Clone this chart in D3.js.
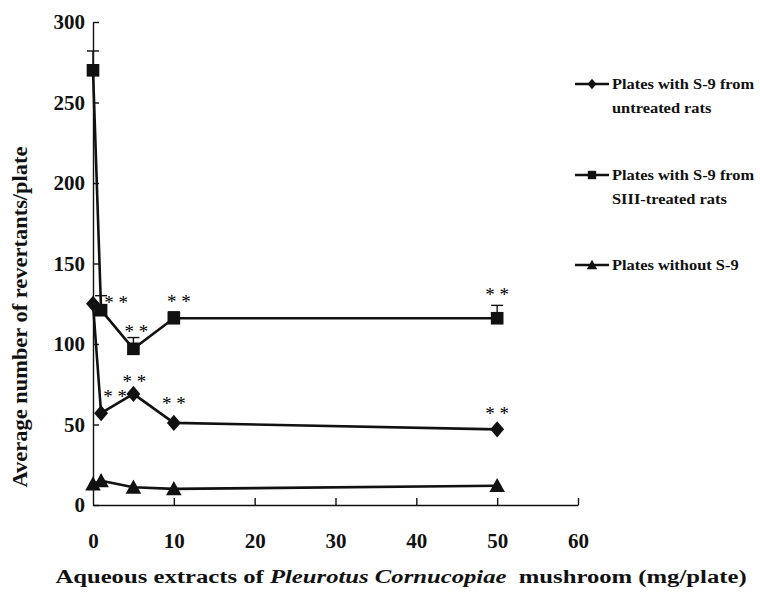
<!DOCTYPE html>
<html><head><meta charset="utf-8">
<script src="https://cdn.jsdelivr.net/npm/d3@7"></script>
<style>
body{margin:0;background:#fff}
text{font-family:"Liberation Serif","Times New Roman",serif}
</style>
</head><body><svg id="c" width="760" height="594"></svg>
<script>
// ---- data ----
const doses = [0, 1, 5, 10, 50];
const untreated = [125, 57, 69, 51, 47];
const siiiTreated = [270, 121, 97, 116, 116];
const siiiErrUp = [12, 9, 7, 4, 8];
const withoutS9 = [13, 15, 11, 10, 12];
const xTicks = [0, 10, 20, 30, 40, 50, 60];
const yTicks = [0, 50, 100, 150, 200, 250, 300];
const legendUntreated = ["Plates with S-9 from", "untreated rats"];
const legendSiii = ["Plates with S-9 from", "SIII-treated rats"];
const legendWithout = ["Plates without S-9"];
const yTitle = "Average number of revertants/plate";
const xTitleParts = ["Aqueous extracts of ", "Pleurotus Cornucopiae", "  mushroom (mg/plate)"];
// significance marks: which series and which dose index
const starsSiii = [1, 2, 3, 4];
const starsUntreated = [1, 2, 3, 4];
const starLabel = "* *";

// ---- layout ----
const svg = d3.select("#c");
const x = d3.scaleLinear().domain([0, 60]).range([93, 578]);
const y = d3.scaleLinear().domain([0, 300]).range([505, 22]);
const ink = "#111";

const diamond = {
  draw(ctx, size) {
    const h = Math.sqrt(size) * 0.62, w = h * 0.86;
    ctx.moveTo(0, -h); ctx.lineTo(w, 0); ctx.lineTo(0, h); ctx.lineTo(-w, 0); ctx.closePath();
  }
};
const triangle = {
  draw(ctx, size) {
    const s = Math.sqrt(size);
    ctx.moveTo(0, -s * 0.55); ctx.lineTo(s * 0.55, s * 0.45); ctx.lineTo(-s * 0.55, s * 0.45); ctx.closePath();
  }
};

// axes
const yAxis = d3.axisLeft(y).tickValues(yTicks).tickSizeInner(-6).tickSizeOuter(0).tickPadding(8);
const gy = svg.append("g").attr("transform", `translate(${x(0)},0)`).call(yAxis);
gy.selectAll("path,line").attr("stroke", ink).attr("stroke-width", 1.4);
gy.selectAll("text").attr("font-size", 21).attr("font-weight", "bold").attr("fill", ink);

const xAxis = d3.axisBottom(x).tickValues(xTicks).tickSizeInner(-7).tickSizeOuter(0).tickPadding(28);
const gx = svg.append("g").attr("transform", `translate(0,${y(0)})`).call(xAxis);
gx.selectAll("path,line").attr("stroke", ink).attr("stroke-width", 1.4);
gx.selectAll("text").attr("font-size", 21).attr("font-weight", "bold").attr("fill", ink);
gx.selectAll(".tick").filter(d => d === 0).select("line").remove();

// lines
const line = d3.line().x((d, i) => x(doses[i])).y(d => y(d));
[siiiTreated, untreated, withoutS9].forEach(s => {
  svg.append("path").datum(s).attr("d", line).attr("fill", "none")
    .attr("stroke", ink).attr("stroke-width", 2.6).attr("stroke-linejoin", "round");
});

// error bars (upper only)
const eb = svg.append("g").attr("stroke", ink).attr("stroke-width", 1.4);
siiiTreated.forEach((v, i) => {
  const cx = x(doses[i]);
  eb.append("line").attr("x1", cx).attr("x2", cx).attr("y1", y(v)).attr("y2", y(v + siiiErrUp[i]));
  eb.append("line").attr("x1", cx - 6).attr("x2", cx + 6).attr("y1", y(v + siiiErrUp[i])).attr("y2", y(v + siiiErrUp[i]));
});

// markers
function markers(data, type, size) {
  svg.append("g").selectAll("path").data(data).join("path")
    .attr("transform", (d, i) => `translate(${x(doses[i])},${y(d)})`)
    .attr("d", d3.symbol().type(type).size(size)).attr("fill", ink);
}
markers(siiiTreated, d3.symbolSquare, 160);
markers(untreated, diamond, 170);
markers(withoutS9, triangle, 200);

// stars
const starOffSiii = [[0, 0], [15, -1], [3, -11], [5, -10], [0, -17]];
const starOffUnt = [[0, 0], [14, -10], [1, -6], [0, -13], [0, -9]];
function stars(data, idx, offs) {
  svg.append("g").selectAll("text").data(idx).join("text")
    .attr("x", i => x(doses[i]) + offs[i][0])
    .attr("y", i => y(data[i]) + offs[i][1])
    .attr("text-anchor", "middle").attr("font-size", 19).attr("fill", "#000")
    .attr("xml:space", "preserve")
    .text(starLabel);
}
stars(siiiTreated, starsSiii, starOffSiii);
stars(untreated, starsUntreated, starOffUnt);

// legend
const legendItems = [
  {lines: legendUntreated, type: diamond, size: 70, y: 84},
  {lines: legendSiii, type: d3.symbolSquare, size: 70, y: 175},
  {lines: legendWithout, type: triangle, size: 90, y: 265}
];
legendItems.forEach(it => {
  const g = svg.append("g");
  g.append("line").attr("x1", 575).attr("x2", 609).attr("y1", it.y).attr("y2", it.y)
    .attr("stroke", ink).attr("stroke-width", 2.4);
  g.append("path").attr("transform", `translate(592,${it.y})`)
    .attr("d", d3.symbol().type(it.type).size(it.size)).attr("fill", ink);
  it.lines.forEach((t, k) => {
    g.append("text").attr("transform", `translate(612,${it.y + 5 + k * 24}) scale(1.08,1)`)
      .attr("font-size", 15.2).attr("font-weight", "bold").attr("fill", ink).text(t);
  });
});

// y title
svg.append("text")
  .attr("transform", "translate(27,317) rotate(-90)")
  .attr("text-anchor", "middle").attr("font-size", 20).attr("font-weight", "bold").attr("fill", ink)
  .attr("textLength", 341).attr("lengthAdjust", "spacingAndGlyphs")
  .text(yTitle);

// x title
const xt = svg.append("text").attr("transform", "translate(401,583) scale(1.3,1)").attr("text-anchor", "middle")
  .attr("font-size", 19).attr("font-weight", "bold").attr("fill", ink).attr("xml:space", "preserve");
xTitleParts.forEach((p, k) => {
  xt.append("tspan").attr("font-style", k === 1 ? "italic" : "normal").text(p);
});
</script>
</body></html>
